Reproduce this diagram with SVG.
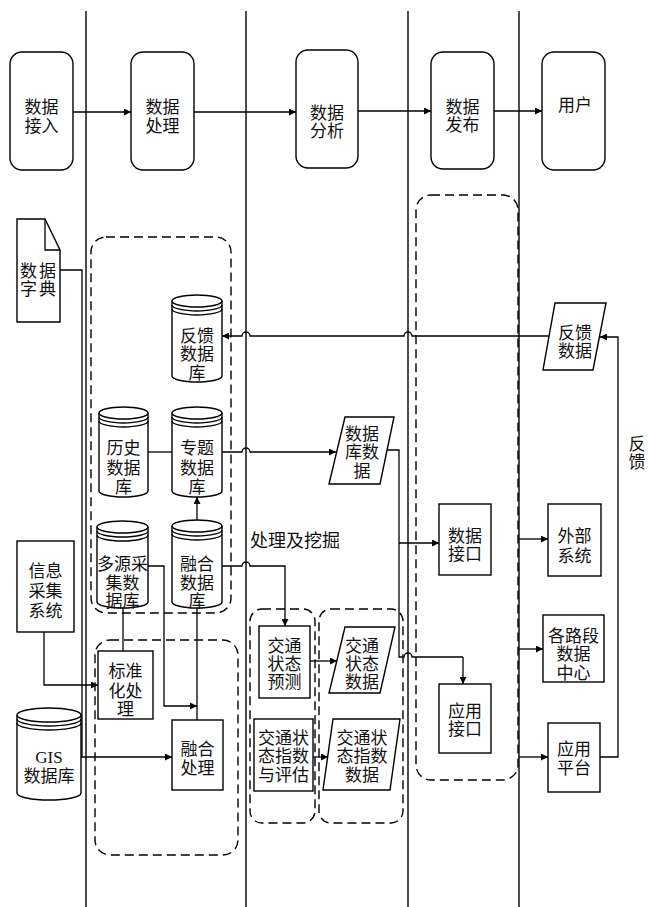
<svg xmlns="http://www.w3.org/2000/svg" width="649" height="907" viewBox="0 0 649 907">
<defs>
<marker id="arr" viewBox="0 0 10 10" refX="10" refY="5" markerWidth="9" markerHeight="7" markerUnits="userSpaceOnUse" orient="auto">
<path d="M0,0 L10,5 L0,10 z" fill="#000"/>
</marker>
</defs>
<style>
.box{fill:#fff;stroke:#000;stroke-width:1.4}
.dash{fill:none;stroke:#000;stroke-width:1.4;stroke-dasharray:9 5}
.lane{stroke:#000;stroke-width:1.4}
.ln{fill:none;stroke:#000;stroke-width:1.3}
.ar{fill:none;stroke:#000;stroke-width:1.3;marker-end:url(#arr)}
text{font-family:"Noto Sans CJK SC","Noto Sans",sans-serif;font-size:17px;fill:#111;text-anchor:middle}
</style>
<rect width="649" height="907" fill="#fff"/>

<g id="lanes">
<line class="lane" x1="86" y1="11" x2="86" y2="907"/>
<line class="lane" x1="246" y1="11" x2="246" y2="907"/>
<line class="lane" x1="408" y1="11" x2="408" y2="907"/>
<line class="lane" x1="519" y1="11" x2="519" y2="907"/>
</g>

<g id="groups">
<rect class="dash" x="91" y="237" width="140" height="376" rx="15"/>
<rect class="dash" x="95" y="640" width="143" height="215" rx="15"/>
<rect class="dash" x="416" y="195" width="102" height="585" rx="15"/>
<rect class="dash" x="250" y="609" width="65" height="214" rx="12"/>
<rect class="dash" x="319" y="609" width="84" height="214" rx="12"/>
</g>

<g id="connectors">
<path class="ar" d="M73,112 L131,112"/>
<path class="ar" d="M194,112 L296,112"/>
<path class="ar" d="M358,111 L431,111"/>
<path class="ar" d="M494,111 L542,111"/>
<path class="ln" d="M60,270 L82,270 L82,757"/>
<path class="ar" d="M44,632 L44,685 L98,685"/>
<path class="ar" d="M81,757 L172,757"/>
<path class="ln" d="M123,608 L123,651"/>
<path class="ar" d="M147,566 L164,566 L164,706 L197,706"/>
<path class="ln" d="M197,720 L197,608"/>
<path class="ar" d="M197,520 L197,497"/>
<path class="ln" d="M148,452 L172,452"/>
<path class="ar" d="M222,452 L242,452 A4,4 0 0 1 250,452 L336,452"/>
<path class="ar" d="M222,566 L242,566 A4,4 0 0 1 250,566 L285,566 L285,626"/>
<path class="ln" d="M387,450 L399,450 L399,657 L404,657 A4,4 0 0 1 412,657 L463,657"/>
<path class="ar" d="M463,657 L463,684"/>
<path class="ar" d="M399,543 L439,543"/>
<path class="ar" d="M310,661 L337,661"/>
<path class="ar" d="M313,757 L328,757"/>
<path class="ar" d="M519,539 L548,539"/>
<path class="ar" d="M519,649 L543,649"/>
<path class="ar" d="M519,757 L548,757"/>
<path class="ar" d="M600,757 L618,757 L618,337 L600,337"/>
<path class="ar" d="M549,336 L412,336 A4,4 0 0 0 404,336 L250,336 A4,4 0 0 0 242,336 L222,336"/>
</g>

<g id="n-access"><rect class="box" x="10" y="52" width="63" height="118" rx="12"/><text><tspan x="41.5" y="113">数据</tspan><tspan x="41.5" y="132">接入</tspan></text></g>
<g id="n-process"><rect class="box" x="131" y="52" width="63" height="118" rx="12"/><text><tspan x="162.5" y="113">数据</tspan><tspan x="162.5" y="132">处理</tspan></text></g>
<g id="n-analysis"><rect class="box" x="296" y="50" width="62" height="118" rx="12"/><text><tspan x="327" y="119">数据</tspan><tspan x="327" y="137">分析</tspan></text></g>
<g id="n-publish"><rect class="box" x="431" y="52" width="63" height="117" rx="12"/><text><tspan x="462.5" y="113">数据</tspan><tspan x="462.5" y="131">发布</tspan></text></g>
<g id="n-user"><rect class="box" x="542" y="52" width="63" height="118" rx="12"/><text x="575" y="111">用户</text></g>

<g id="n-dict"><path class="box" d="M17,219 L45,219 L60,250 L60,322 L17,322 Z"/><path class="ln" d="M45,219 L45,250 L60,250"/><text style="letter-spacing:2px"><tspan x="39" y="277">数据</tspan><tspan x="39" y="295">字典</tspan></text></g>

<g id="n-fbdb"><path class="box" d="M172,301 L172,376 A25,6 0 0 0 222,376 L222,301"/><ellipse class="box" cx="197" cy="301" rx="25" ry="6"/><path class="ln" d="M172,305 A25,6 0 0 0 222,305 M172,309 A25,6 0 0 0 222,309"/><text><tspan x="197" y="342">反馈</tspan><tspan x="197" y="360">数据</tspan><tspan x="197" y="379">库</tspan></text></g>

<g id="n-hist"><path class="box" d="M99,413 L99,491 A24.5,6 0 0 0 148,491 L148,413"/><ellipse class="box" cx="123.5" cy="413" rx="24.5" ry="6"/><path class="ln" d="M99,417 A24.5,6 0 0 0 148,417 M99,421 A24.5,6 0 0 0 148,421"/><text><tspan x="123.5" y="454">历史</tspan><tspan x="123.5" y="474">数据</tspan><tspan x="123.5" y="493">库</tspan></text></g>

<g id="n-theme"><path class="box" d="M172,413 L172,491 A25,6 0 0 0 222,491 L222,413"/><ellipse class="box" cx="197" cy="413" rx="25" ry="6"/><path class="ln" d="M172,417 A25,6 0 0 0 222,417 M172,421 A25,6 0 0 0 222,421"/><text><tspan x="197" y="454">专题</tspan><tspan x="197" y="474">数据</tspan><tspan x="197" y="493">库</tspan></text></g>

<g id="n-multi"><path class="box" d="M97,527 L97,602 A25.5,6 0 0 0 148,602 L148,527"/><ellipse class="box" cx="122.5" cy="527" rx="25.5" ry="6"/><path class="ln" d="M97,531 A25.5,6 0 0 0 148,531 M97,535 A25.5,6 0 0 0 148,535"/><text><tspan x="122.5" y="570">多源采</tspan><tspan x="122.5" y="589">集数</tspan><tspan x="122.5" y="607">据库</tspan></text></g>

<g id="n-fusedb"><path class="box" d="M172,526 L172,602 A25,6 0 0 0 222,602 L222,526"/><ellipse class="box" cx="197" cy="526" rx="25" ry="6"/><path class="ln" d="M172,530 A25,6 0 0 0 222,530 M172,534 A25,6 0 0 0 222,534"/><text><tspan x="197" y="570">融合</tspan><tspan x="197" y="589">数据</tspan><tspan x="197" y="607">库</tspan></text></g>

<g id="n-gis"><path class="box" d="M17,715 L17,793 A32,7 0 0 0 81,793 L81,715"/><ellipse class="box" cx="49" cy="715" rx="32" ry="7"/><path class="ln" d="M17,719 A32,7 0 0 0 81,719 M17,723 A32,7 0 0 0 81,723"/><text><tspan x="49" y="763" style="font-family:'Liberation Serif',serif">GIS</tspan><tspan x="49" y="782">数据库</tspan></text></g>

<g id="n-info"><rect class="box" x="17" y="541" width="57" height="91"/><text><tspan x="45.5" y="577">信息</tspan><tspan x="45.5" y="597">采集</tspan><tspan x="45.5" y="617">系统</tspan></text></g>
<g id="n-std"><rect class="box" x="98" y="651" width="55" height="68"/><text><tspan x="125.5" y="677">标准</tspan><tspan x="125.5" y="697">化处</tspan><tspan x="125.5" y="715">理</tspan></text></g>
<g id="n-fuse"><rect class="box" x="172" y="720" width="51" height="70"/><text><tspan x="197.5" y="755">融合</tspan><tspan x="197.5" y="774">处理</tspan></text></g>

<g id="n-pred"><rect class="box" x="259" y="626" width="51" height="72"/><text><tspan x="284.5" y="652">交通</tspan><tspan x="284.5" y="670">状态</tspan><tspan x="284.5" y="688">预测</tspan></text></g>
<g id="n-eval"><rect class="box" x="254" y="719" width="59" height="72"/><text><tspan x="283.5" y="744">交通状</tspan><tspan x="283.5" y="762">态指数</tspan><tspan x="283.5" y="781">与评估</tspan></text></g>
<g id="n-statedata"><path class="box" d="M345,627 L395,627 L380,693 L329,693 Z"/><text><tspan x="362" y="652">交通</tspan><tspan x="362" y="670">状态</tspan><tspan x="362" y="688">数据</tspan></text></g>
<g id="n-indexdata"><path class="box" d="M333,719 L400,719 L390,790 L323,790 Z"/><text><tspan x="362" y="744">交通状</tspan><tspan x="362" y="762">态指数</tspan><tspan x="362" y="781">数据</tspan></text></g>
<g id="n-dbdata"><path class="box" d="M345,417 L394,417 L380,484 L329,484 Z"/><text><tspan x="362" y="440">数据</tspan><tspan x="362" y="458">库数</tspan><tspan x="362" y="477">据</tspan></text></g>

<g id="n-dataif"><rect class="box" x="439" y="504" width="52" height="71"/><text><tspan x="465" y="542">数据</tspan><tspan x="465" y="560">接口</tspan></text></g>
<g id="n-appif"><rect class="box" x="439" y="684" width="52" height="69"/><text><tspan x="465" y="717">应用</tspan><tspan x="465" y="735">接口</tspan></text></g>

<g id="n-fbdata"><path class="box" d="M555,303 L606,303 L593,370 L543,370 Z"/><text><tspan x="575" y="339">反馈</tspan><tspan x="575" y="357">数据</tspan></text></g>
<g id="n-ext"><rect class="box" x="548" y="504" width="53" height="72"/><text><tspan x="574.5" y="542">外部</tspan><tspan x="574.5" y="562">系统</tspan></text></g>
<g id="n-center"><rect class="box" x="543" y="615" width="61" height="67"/><text><tspan x="573.5" y="642">各路段</tspan><tspan x="573.5" y="660">数据</tspan><tspan x="573.5" y="679">中心</tspan></text></g>
<g id="n-platform"><rect class="box" x="548" y="723" width="52" height="69"/><text><tspan x="574" y="755">应用</tspan><tspan x="574" y="774">平台</tspan></text></g>

<g id="labels">
<text x="250" y="547" style="text-anchor:start;font-size:18px">处理及挖掘</text>
<text><tspan x="637" y="450">反</tspan><tspan x="637" y="468">馈</tspan></text>
</g>
</svg>
